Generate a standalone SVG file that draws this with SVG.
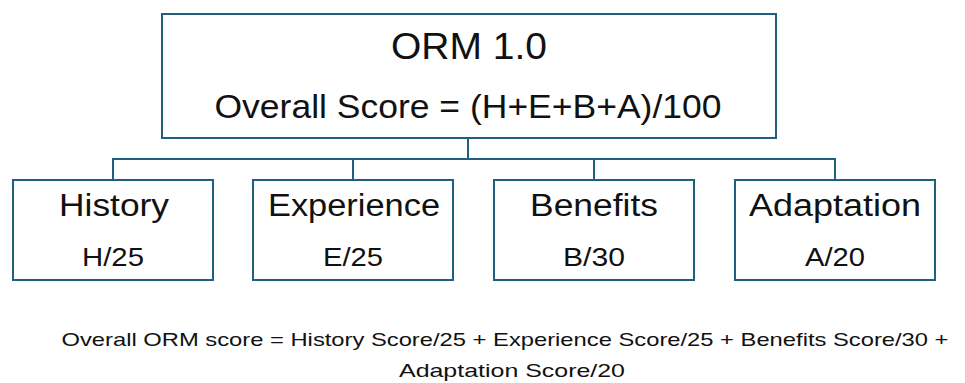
<svg xmlns="http://www.w3.org/2000/svg" width="965" height="383" viewBox="0 0 965 383">
  <style>
    .box { fill: #ffffff; stroke: #215f7e; stroke-width: 2; }
    .link { fill: none; stroke: #215f7e; stroke-width: 2; }
    text { font-family: "Liberation Sans", Arial, sans-serif; fill: #111111; text-anchor: middle; }
    .title { font-size: 37px; }
    .formula { font-size: 33px; }
    .name { font-size: 31px; }
    .weight { font-size: 25px; }
    .note { font-size: 19px; }
  </style>
  <rect width="965" height="383" fill="#ffffff"/>

  <g id="connectors">
    <path class="link" d="M468 138 V159 M113 180 V159 H835 V180 M353 159 V180 M594 159 V180"/>
  </g>

  <g id="orm">
    <rect class="box" x="162" y="14" width="614" height="124"/>
    <text class="title" x="469" y="59" textLength="156" lengthAdjust="spacingAndGlyphs">ORM 1.0</text>
    <text class="formula" x="468" y="118" textLength="507" lengthAdjust="spacingAndGlyphs">Overall Score = (H+E+B+A)/100</text>
  </g>

  <g id="history">
    <rect class="box" x="13" y="180" width="200" height="100"/>
    <text class="name" x="114" y="216" textLength="110" lengthAdjust="spacingAndGlyphs">History</text>
    <text class="weight" x="113" y="266" textLength="62" lengthAdjust="spacingAndGlyphs">H/25</text>
  </g>

  <g id="experience">
    <rect class="box" x="253" y="180" width="200" height="100"/>
    <text class="name" x="354" y="216" textLength="172" lengthAdjust="spacingAndGlyphs">Experience</text>
    <text class="weight" x="353" y="266" textLength="60" lengthAdjust="spacingAndGlyphs">E/25</text>
  </g>

  <g id="benefits">
    <rect class="box" x="494" y="180" width="200" height="100"/>
    <text class="name" x="594" y="216" textLength="128" lengthAdjust="spacingAndGlyphs">Benefits</text>
    <text class="weight" x="594" y="266" textLength="62" lengthAdjust="spacingAndGlyphs">B/30</text>
  </g>

  <g id="adaptation">
    <rect class="box" x="735" y="180" width="200" height="100"/>
    <text class="name" x="835" y="216" textLength="172" lengthAdjust="spacingAndGlyphs">Adaptation</text>
    <text class="weight" x="835" y="266" textLength="60" lengthAdjust="spacingAndGlyphs">A/20</text>
  </g>

  <g id="note">
    <text class="note" x="505" y="346" textLength="887" lengthAdjust="spacingAndGlyphs">Overall ORM score = History Score/25 + Experience Score/25 + Benefits Score/30 +</text>
    <text class="note" x="512" y="377" textLength="226" lengthAdjust="spacingAndGlyphs">Adaptation Score/20</text>
  </g>
</svg>
